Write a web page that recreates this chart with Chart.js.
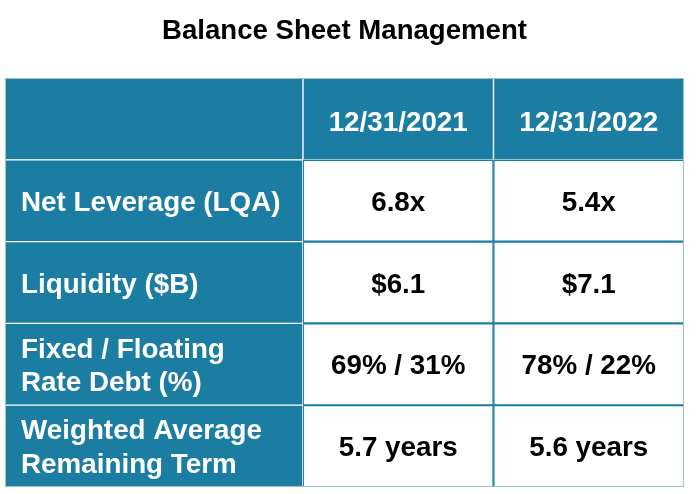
<!DOCTYPE html>
<html>
<head>
<meta charset="utf-8">
<script src="https://cdn.jsdelivr.net/npm/chart.js@4/dist/chart.umd.min.js"></script>
<style>
  html, body { margin: 0; padding: 0; background: #ffffff; }
  #wrap { width: 696px; height: 494px; position: relative; }
</style>
</head>
<body>
<div id="wrap"><canvas id="c"></canvas></div>
<script>
// ---- data ----
const titleText = 'Balance Sheet Management';
const columnHeaders = ['', '12/31/2021', '12/31/2022'];
const rowLabels = [
  '',
  ['Net Leverage (LQA)'],
  ['Liquidity ($B)'],
  ['Fixed / Floating', 'Rate Debt (%)'],
  ['Weighted Average', 'Remaining Term']
];
const values2021 = ['6.8x', '$6.1', '69% / 31%', '5.7 years'];
const values2022 = ['5.4x', '$7.1', '78% / 22%', '5.6 years'];

// ---- layout / style ----
const TEAL = '#1c7da2';
const FONT = "'Liberation Sans', Arial, Helvetica, sans-serif";
const colEdges = [0, 1.564, 2.564, 3.564];
const rowKeys = rowLabels.map((r, i) => (Array.isArray(r) ? r.join(' ') : 'header'));

function cellText(col, row) {
  if (row === 0) return [columnHeaders[col]];
  if (col === 0) return rowLabels[row];
  return [(col === 1 ? values2021 : values2022)[row - 1]];
}
function isTeal(col, row) { return col === 0 || row === 0; }

const datasets = [0, 1, 2].map(c => ({
  label: columnHeaders[c] || 'label',
  data: rowKeys.map(() => [colEdges[c], colEdges[c + 1]]),
  backgroundColor: ctx => isTeal(c, ctx.dataIndex) ? TEAL : '#ffffff',
  borderColor: ctx => isTeal(c, ctx.dataIndex) ? '#ffffff' : TEAL,
  borderWidth: ctx => isTeal(c, ctx.dataIndex) ? 1 : 1.4,
  borderSkipped: false,
  grouped: false,
  barPercentage: 1,
  categoryPercentage: 1
}));

const tablePlugin = {
  id: 'tableText',
  afterDatasetsDraw(chart) {
    const ctx = chart.ctx;
    const area = chart.chartArea;
    ctx.save();
    // outer border
    ctx.strokeStyle = '#9dbfd0';
    ctx.lineWidth = 1;
    ctx.strokeRect(area.left + 0.5, area.top + 0.5, area.right - area.left - 1, area.bottom - area.top - 1);
    ctx.font = 'bold 27.8px ' + FONT;
    ctx.textBaseline = 'middle';
    const lineH = 33.8;
    chart.data.datasets.forEach((ds, col) => {
      const meta = chart.getDatasetMeta(col);
      meta.data.forEach((el, row) => {
        const lines = cellText(col, row);
        if (!lines || !lines[0]) return;
        const p = el.getProps(['x', 'y', 'base'], true);
        const x0 = Math.min(p.x, p.base), x1 = Math.max(p.x, p.base);
        const yOff = row === 0 ? 4 : 2.5;
        ctx.fillStyle = isTeal(col, row) ? '#ffffff' : '#000000';
        let tx;
        if (col === 0) { ctx.textAlign = 'left'; tx = x0 + 16; }
        else { ctx.textAlign = 'center'; tx = (x0 + x1) / 2; }
        const n = lines.length;
        lines.forEach((ln, k) => {
          const ty = p.y + yOff + (k - (n - 1) / 2) * lineH;
          ctx.fillText(ln, tx, ty);
        });
      });
    });
    ctx.restore();
  }
};

new Chart(document.getElementById('c'), {
  type: 'bar',
  data: { labels: rowKeys, datasets },
  options: {
    indexAxis: 'y',
    responsive: true,
    maintainAspectRatio: false,
    animation: false,
    events: [],
    layout: { padding: { top: 0, left: 5, right: 12, bottom: 7 } },
    plugins: {
      legend: { display: false },
      tooltip: { enabled: false },
      title: {
        display: true,
        text: titleText,
        color: '#000000',
        font: { family: FONT, size: 27.6, weight: 'bold', lineHeight: 1.2 },
        padding: { top: 14.5, bottom: 30.4 }
      }
    },
    scales: {
      x: { type: 'linear', min: colEdges[0], max: colEdges[3], display: false },
      y: { type: 'category', display: false, offset: true }
    }
  },
  plugins: [tablePlugin]
});
</script>
</body>
</html>
